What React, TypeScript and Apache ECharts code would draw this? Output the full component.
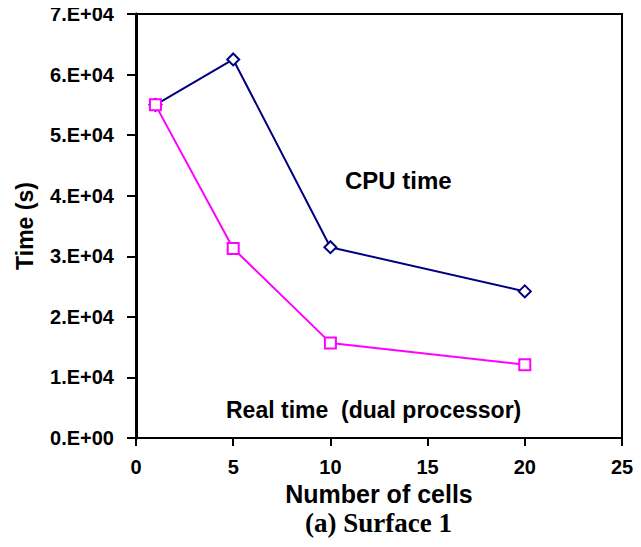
import React, { useEffect, useRef } from "react";
import * as echarts from "echarts";

const cells = [1, 5, 10, 20];
const cpuTime = [55000, 62500, 31500, 24200];
const realTime = [55000, 31300, 15700, 12100];
const xTicks = [0, 5, 10, 15, 20, 25];
const yTickLabels = ["0.E+00", "1.E+04", "2.E+04", "3.E+04", "4.E+04", "5.E+04", "6.E+04", "7.E+04"];

export default function App() {
  const ref = useRef<HTMLDivElement>(null);
  useEffect(() => {
    const chart = echarts.init(ref.current!, null, { renderer: "svg" });
    const font = "Liberation Sans, Arial, Helvetica, sans-serif";
    chart.setOption({
      animation: false,
      backgroundColor: "#ffffff",
      grid: {
        left: 136,
        right: 19,
        top: 14,
        bottom: 109,
        show: true,
        borderColor: "#000",
        borderWidth: 2,
        containLabel: false,
        outerBoundsMode: "none",
      },
      xAxis: {
        type: "value",
        min: xTicks[0],
        max: xTicks[xTicks.length - 1],
        interval: 5,
        name: "Number of cells",
        nameLocation: "middle",
        nameGap: 41,
        nameTextStyle: { fontFamily: font, fontWeight: "bold", fontSize: 25, color: "#000" },
        axisLine: { show: true, lineStyle: { color: "#000", width: 2 } },
        axisTick: { show: true, inside: false, length: 8, lineStyle: { color: "#000", width: 2 } },
        axisLabel: { fontFamily: font, fontWeight: "bold", fontSize: 20, color: "#000", margin: 19 },
        splitLine: { show: false },
      },
      yAxis: {
        type: "value",
        min: 0,
        max: 70000,
        interval: 10000,
        name: "Time (s)",
        nameLocation: "middle",
        nameRotate: 90,
        nameGap: 100,
        nameTextStyle: { fontFamily: font, fontWeight: "bold", fontSize: 23, color: "#000" },
        axisLine: { show: true, lineStyle: { color: "#000", width: 3 } },
        axisTick: { show: true, inside: false, length: 9, lineStyle: { color: "#000", width: 2 } },
        axisLabel: {
          fontFamily: font,
          fontWeight: "bold",
          fontSize: 20,
          color: "#000",
          margin: 22,
          formatter: (v: number) => yTickLabels[Math.round(v / 10000)] ?? "",
        },
        splitLine: { show: false },
      },
      series: [
        {
          type: "line",
          data: cells.map((c, i) => [c, cpuTime[i]]),
          symbol: "diamond",
          symbolSize: 12,
          showAllSymbol: true,
          lineStyle: { color: "#000080", width: 2 },
          itemStyle: { color: "#ffffff", borderColor: "#000080", borderWidth: 2 },
        },
        {
          type: "line",
          data: cells.map((c, i) => [c, realTime[i]]),
          symbol: "rect",
          symbolSize: 11,
          showAllSymbol: true,
          lineStyle: { color: "#ff00ff", width: 2 },
          itemStyle: { color: "#ffffff", borderColor: "#ff00ff", borderWidth: 2 },
        },
      ],
      graphic: [
        {
          type: "text",
          left: 345,
          top: 168,
          style: { text: "CPU time", font: `bold 24px ${font}`, fill: "#000" },
        },
        {
          type: "text",
          left: 226,
          top: 398,
          style: { text: "Real time  (dual processor)", font: `bold 23px ${font}`, fill: "#000" },
        },
        {
          type: "text",
          left: 305,
          top: 509,
          style: {
            text: "(a) Surface 1",
            font: `bold 27px "Liberation Serif", "Times New Roman", serif`,
            fill: "#000",
          },
        },
      ],
    });
    return () => chart.dispose();
  }, []);
  return <div ref={ref} style={{ width: 641, height: 547, margin: -8 }} />;
}
